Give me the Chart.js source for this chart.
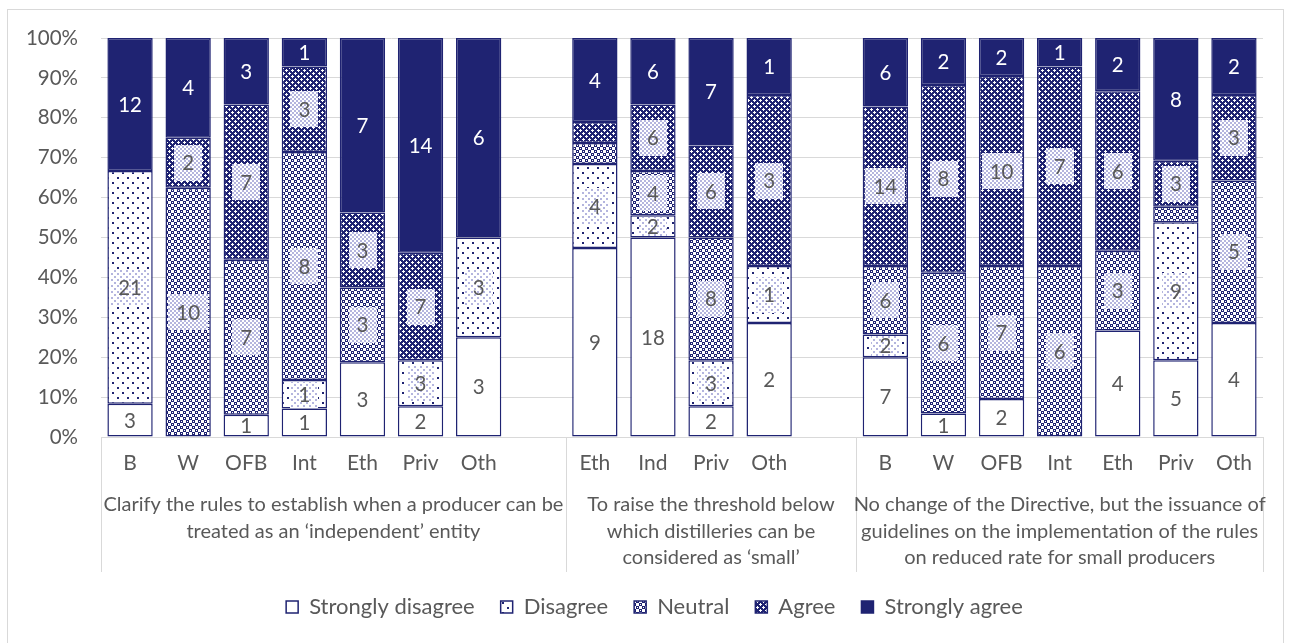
<!DOCTYPE html>
<html>
<head>
<meta charset="utf-8">
<script src="https://cdn.jsdelivr.net/npm/chart.js@4.4.0/dist/chart.umd.min.js"></script>
<style>
  html, body { margin: 0; padding: 0; background: #fff; }
  #wrap { position: relative; width: 1294px; height: 643px; }
</style>
</head>
<body>
<div id="wrap"><canvas id="myChart"></canvas></div>
<script>
// categories, empty strings are the spacer slots between groups
const categories = ['B', 'W', 'OFB', 'Int', 'Eth', 'Priv', 'Oth', '',
                    'Eth', 'Ind', 'Priv', 'Oth', '',
                    'B', 'W', 'OFB', 'Int', 'Eth', 'Priv', 'Oth'];
const groupSlots = [8, 5, 7];
const groupLabels = [
    ['Clarify the rules to establish when a producer can be', 'treated as an \u2018independent\u2019 entity'],
    ['To raise the threshold below', 'which distilleries can be', 'considered as \u2018small\u2019'],
    ['No change of the Directive, but the issuance of', 'guidelines on the implementation of the rules', 'on reduced rate for small producers']
];
const seriesNames = ['Strongly disagree', 'Disagree', 'Neutral', 'Agree', 'Strongly agree'];
const yTicks = [0, 10, 20, 30, 40, 50, 60, 70, 80, 90, 100];

// number of answers per category
const stronglyDisagree = [3, 0, 1, 1, 3, 2, 3, null, 9, 18, 2, 2, null, 7, 1, 2, 0, 4, 5, 4];
const disagree         = [21, 0, 0, 1, 0, 3, 3, null, 4, 2, 3, 1, null, 2, 0, 0, 0, 0, 9, 0];
const neutral          = [0, 10, 7, 8, 3, 0, 0, null, 1, 4, 8, 0, null, 6, 6, 7, 6, 3, 1, 5];
const agree            = [0, 2, 7, 3, 3, 7, 0, null, 1, 6, 6, 3, null, 14, 8, 10, 7, 6, 3, 3];
const stronglyAgree    = [12, 4, 3, 1, 7, 14, 6, null, 4, 6, 7, 1, null, 6, 2, 2, 1, 2, 8, 2];

const counts = [stronglyDisagree, disagree, neutral, agree, stronglyAgree];

const navy = '#1F2372';
const grey = '#595959';
const lineGrey = '#d9d9d9';
const fontFamily = 'Lato, "Open Sans", sans-serif';

function makePattern(size, draw) {
    const c = document.createElement('canvas');
    c.width = size;
    c.height = size;
    const g = c.getContext('2d');
    draw(g);
    return g.createPattern(c, 'repeat');
}

const dotFill = makePattern(10, g => {
    g.fillStyle = '#fff'; g.fillRect(0, 0, 10, 10);
    g.fillStyle = navy; g.fillRect(2, 2, 2, 2); g.fillRect(7, 7, 2, 2);
});
const checkFill = makePattern(6, g => {
    g.fillStyle = '#fff'; g.fillRect(0, 0, 6, 6);
    g.fillStyle = navy; g.fillRect(0, 0, 3, 3); g.fillRect(3, 3, 3, 3);
    g.fillStyle = '#fff'; g.fillRect(1, 1, 1, 1); g.fillRect(4, 4, 1, 1);
});
const plusFill = makePattern(6, g => {
    g.fillStyle = navy; g.fillRect(0, 0, 6, 6);
    g.fillStyle = '#fff';
    g.fillRect(1, 0, 1, 3); g.fillRect(0, 1, 3, 1);
    g.fillRect(4, 3, 1, 3); g.fillRect(3, 4, 3, 1);
});
// light label backgrounds
const labelDots = makePattern(6, g => {
    g.fillStyle = '#fff'; g.fillRect(0, 0, 6, 6);
    g.fillStyle = '#b4b5de'; g.fillRect(0, 0, 2, 2); g.fillRect(3, 3, 2, 2);
});
const labelCheck = makePattern(4, g => {
    g.fillStyle = '#fff'; g.fillRect(0, 0, 4, 4);
    g.fillStyle = '#b4b5de'; g.fillRect(0, 0, 2, 2); g.fillRect(2, 2, 2, 2);
});

const fills = ['#ffffff', dotFill, checkFill, plusFill, navy];
const labelBg = [null, labelDots, labelCheck, labelCheck, null];

// convert counts to percent of each bar
const totals = categories.map((c, i) => counts.reduce((s, arr) => s + (arr[i] || 0), 0));
function toPercent(arr) {
    return arr.map((v, i) => (v === null || !totals[i]) ? null : v / totals[i] * 100);
}

const framePlugin = {
    id: 'frame',
    afterLayout(chart) {
        // legend sits a bit right of the page centre
        chart.legend.left = 46;
    },
    beforeDraw(chart) {
        const ctx = chart.ctx;
        ctx.save();
        ctx.fillStyle = '#fff';
        ctx.fillRect(0, 0, chart.width, chart.height);
        ctx.strokeStyle = lineGrey;
        ctx.lineWidth = 1;
        ctx.strokeRect(7.5, 9.5, 1276, 640);
        ctx.restore();
    },
    afterDraw(chart) {
        const ctx = chart.ctx;
        const xs = chart.scales.x;
        const slot = (xs.right - xs.left) / categories.length;
        ctx.save();
        ctx.strokeStyle = lineGrey;
        ctx.lineWidth = 1;
        let start = 0;
        const edges = [0];
        groupSlots.forEach(n => { start += n; edges.push(start); });
        edges.forEach(e => {
            const px = Math.round(xs.left + e * slot) + 0.5;
            ctx.beginPath();
            ctx.moveTo(px, xs.top);
            ctx.lineTo(px, 572);
            ctx.stroke();
        });
        ctx.fillStyle = grey;
        ctx.font = '20px ' + fontFamily;
        ctx.textAlign = 'center';
        ctx.textBaseline = 'middle';
        groupLabels.forEach((lines, gi) => {
            const cx = xs.left + (edges[gi] + groupSlots[gi] / 2) * slot;
            lines.forEach((t, li) => ctx.fillText(t, cx, 505 + li * 26.5));
        });
        ctx.restore();
    }
};

const valueLabels = {
    id: 'valueLabels',
    afterDatasetsDraw(chart) {
        const ctx = chart.ctx;
        ctx.save();
        ctx.font = '20.5px ' + fontFamily;
        ctx.textAlign = 'center';
        ctx.textBaseline = 'middle';
        chart.data.datasets.forEach((ds, di) => {
            const meta = chart.getDatasetMeta(di);
            meta.data.forEach((bar, i) => {
                const n = counts[di][i];
                if (!n || ds.data[i] < 5.4) return;
                const p = bar.getProps(['x', 'y', 'base'], true);
                const cy = (p.y + p.base) / 2;
                const h = Math.abs(p.base - p.y);
                if (labelBg[di]) {
                    const w = ctx.measureText(String(n)).width + 16;
                    const bh = Math.min(36, h - 3);
                    ctx.fillStyle = labelBg[di];
                    ctx.fillRect(Math.round(p.x - w / 2), Math.round(cy - bh / 2), Math.round(w), Math.round(bh));
                }
                ctx.fillStyle = di === 4 ? '#fff' : grey;
                ctx.fillText(String(n), p.x, cy + 1);
            });
        });
        ctx.restore();
    }
};

const ctx = document.getElementById('myChart').getContext('2d');
new Chart(ctx, {
    type: 'bar',
    data: {
        labels: categories,
        datasets: counts.map((arr, i) => ({
            label: seriesNames[i],
            data: toPercent(arr),
            backgroundColor: fills[i],
            borderColor: navy,
            borderWidth: 1.5,
            borderSkipped: false,
            barPercentage: 0.78,
            categoryPercentage: 1
        }))
    },
    options: {
        responsive: true,
        maintainAspectRatio: false,
        animation: false,
        layout: { padding: { left: 0, right: 31, top: 38, bottom: 15 } },
        plugins: {
            tooltip: { enabled: false },
            legend: {
                position: 'bottom',
                labels: {
                    boxWidth: 12,
                    boxHeight: 12,
                    padding: 26,
                    color: grey,
                    font: { family: fontFamily, size: 22 }
                }
            }
        },
        scales: {
            x: {
                stacked: true,
                grid: { display: false, drawTicks: false },
                border: { display: true, color: lineGrey, width: 1 },
                ticks: {
                    color: grey,
                    font: { family: fontFamily, size: 21 },
                    padding: 14,
                    autoSkip: false,
                    maxRotation: 0
                },
                afterFit(s) {
                    s.height = s.chart.height - 437 - s.chart.legend.height - 15;
                }
            },
            y: {
                stacked: true,
                min: 0,
                max: 100,
                afterBuildTicks(s) { s.ticks = yTicks.map(v => ({ value: v })); },
                grid: { color: lineGrey, drawTicks: false },
                border: { display: false },
                ticks: {
                    color: grey,
                    font: { family: fontFamily, size: 20.5 },
                    padding: 23,
                    callback: v => v + '%'
                },
                afterFit(s) { s.width = 101; }
            }
        }
    },
    plugins: [framePlugin, valueLabels]
});
</script>
</body>
</html>
